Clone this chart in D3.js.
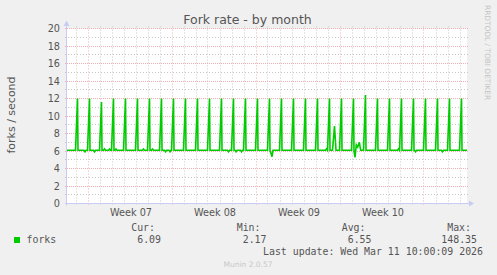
<!DOCTYPE html>
<html>
<head>
<meta charset="utf-8">
<script src="https://cdn.jsdelivr.net/npm/d3@7"></script>
<style>
	body { margin: 0; background: #f0f0f0; }
	svg { display: block; }
	text { font-family: "DejaVu Sans", sans-serif; fill: #555; }
	.mono { font-family: "DejaVu Sans Mono", monospace; }
</style>
</head>
<body>
<svg id="chart"></svg>
<script>
const title = "Fork rate - by month";
const unitLabel = "forks / second";

// [hours since left edge of graph, forks per second]
const forkRate = [
	[0, 6.08],
	[17, 6.08], [21, 12.0], [22, 6.08], [34, 6.08], [36, 5.9], [38, 6.08],
	[41, 6.08], [45, 12.0], [46, 6.08], [53, 6.08], [55, 5.9], [57, 6.08],
	[65, 6.08], [69, 11.6], [70, 6.08], [73, 6.08], [75, 6.25], [77, 6.08],
	[83, 6.08], [85, 6.22], [87, 6.08],
	[89, 6.08], [93, 12.0], [94, 6.08], [96, 6.08], [98, 6.22], [100, 6.08],
	[113, 6.08], [117, 12.0], [118, 6.08],
	[137, 6.08], [141, 12.0], [142, 6.08], [151, 6.08], [153, 6.22], [155, 6.08],
	[161, 6.08], [165, 12.0], [166, 6.08], [169, 6.08], [171, 6.22], [173, 6.08],
	[185, 6.08], [189, 12.0], [190, 6.08], [195, 6.08], [197, 5.9], [199, 6.08],
	[204, 6.08], [206, 5.9], [208, 6.08],
	[209, 6.08], [213, 12.0], [214, 6.08],
	[233, 6.08], [237, 12.0], [238, 6.08],
	[257, 6.08], [261, 12.0], [262, 6.08],
	[281, 6.08], [285, 12.0], [286, 6.08],
	[305, 6.08], [309, 12.0], [310, 6.08], [321, 6.08], [323, 5.9], [325, 6.08],
	[329, 6.08], [333, 12.0], [334, 6.08], [336, 6.08], [338, 5.9], [340, 6.08],
	[347, 6.08], [349, 5.9], [351, 6.08],
	[353, 6.08], [357, 12.0], [358, 6.08],
	[377, 6.08], [381, 12.0], [382, 6.08],
	[401, 6.08], [405, 12.0], [406, 6.0], [408, 5.75], [410, 5.35], [412, 6.08],
	[425, 6.08], [429, 12.0], [430, 6.08],
	[449, 6.08], [453, 12.0], [454, 6.08],
	[473, 6.08], [477, 12.0], [478, 6.08],
	[497, 6.08], [501, 12.0], [502, 6.08], [517, 6.08], [519, 6.25], [521, 6.08],
	[525, 12.0], [526, 6.08], [531, 6.08], [535, 8.85], [538, 6.08],
	[545, 6.08], [549, 12.0], [550, 6.08],
	[569, 6.08], [573, 12.0], [574, 6.0], [576, 5.28], [578.6, 6.7], [581.4, 6.45],
	[584.6, 7.0], [587.4, 6.08],
	[593, 6.08], [597, 12.4], [598, 6.08],
	[617, 6.08], [621, 12.0], [622, 6.08],
	[641, 6.08], [645, 12.0], [646, 6.08], [661, 6.08], [663, 6.25], [665, 6.08],
	[669, 12.0], [670, 6.08],
	[689, 6.08], [693, 12.0], [694, 6.08], [695, 6.08], [697, 5.9], [699, 6.08],
	[713, 6.08], [717, 12.0], [718, 6.08],
	[737, 6.08], [741, 12.0], [742, 6.08], [749, 6.08], [751, 5.9], [753, 6.08],
	[761, 6.08], [765, 12.0], [766, 6.08],
	[785, 6.08], [789, 12.0], [790, 6.08],
	[800, 6.08]
];

const weekStarts = [42, 210, 378, 546, 714];
const weekLabels = ["Week 07", "Week 08", "Week 09", "Week 10"];
const weekLabelHours = [126, 294, 462, 630];
const yTickLabels = [0, 2, 4, 6, 8, 10, 12, 14, 16, 18, 20];

const legendName = "forks";
const legendHeads = ["Cur:", "Min:", "Avg:", "Max:"];
const legendValues = ["6.09", "2.17", "6.55", "148.35"];
const lastUpdate = "Last update: Wed Mar 11 10:00:09 2026";
const version = "Munin 2.0.57";
const watermark = "RRDTOOL / TOBI OETIKER";

const W = 497, H = 275;
const plotLeft = 67, plotRight = 467, plotTop = 28.5, plotBottom = 203.5;

const svg = d3.select("#chart")
	.attr("width", W)
	.attr("height", H);

svg.append("rect")
	.attr("width", W).attr("height", H)
	.attr("fill", "#f0f0f0");

const x = d3.scaleLinear().domain([0, 800]).range([plotLeft, plotRight]);
const y = d3.scaleLinear().domain([0, 20]).range([plotBottom, plotTop]);
const px = v => Math.floor(v) + 0.5;

svg.append("rect")
	.attr("x", plotLeft).attr("y", plotTop)
	.attr("width", plotRight - plotLeft).attr("height", plotBottom - plotTop)
	.attr("fill", "#ffffff");

// minor grid
const minorY = d3.range(1, 20, 2);
svg.append("g").selectAll("line")
	.data(minorY)
	.join("line")
	.attr("x1", plotLeft - 2).attr("x2", plotRight + 2)
	.attr("y1", d => px(y(d))).attr("y2", d => px(y(d)))
	.attr("stroke", "#c8c8c8")
	.attr("stroke-dasharray", "1,2");

const dayLines = d3.range(18, 800, 24).filter(h => !weekStarts.includes(h));
svg.append("g").selectAll("line")
	.data(dayLines)
	.join("line")
	.attr("x1", d => px(x(d))).attr("x2", d => px(x(d)))
	.attr("y1", plotTop - 2).attr("y2", plotBottom + 2)
	.attr("stroke", "#c8c8c8")
	.attr("stroke-dasharray", "1,2");

// major grid
svg.append("g").selectAll("line")
	.data(yTickLabels)
	.join("line")
	.attr("x1", plotLeft - 2).attr("x2", plotRight + 2)
	.attr("y1", d => px(y(d))).attr("y2", d => px(y(d)))
	.attr("stroke", "#eeb0b0")
	.attr("stroke-dasharray", "1,1");

svg.append("g").selectAll("line")
	.data(weekStarts)
	.join("line")
	.attr("x1", d => px(x(d))).attr("x2", d => px(x(d)))
	.attr("y1", plotTop - 2).attr("y2", plotBottom + 2)
	.attr("stroke", "#eeb0b0")
	.attr("stroke-dasharray", "1,2");

// axes
const axisColor = "#c8ccf4";
svg.append("line")
	.attr("x1", plotLeft - 0.5).attr("x2", plotLeft - 0.5)
	.attr("y1", plotBottom + 2).attr("y2", 24)
	.attr("stroke", axisColor);
svg.append("line")
	.attr("x1", plotLeft - 2).attr("x2", plotRight + 4)
	.attr("y1", plotBottom).attr("y2", plotBottom)
	.attr("stroke", axisColor);
svg.append("path")
	.attr("d", `M${plotLeft - 0.5},20.5 L${plotLeft - 3.5},26 L${plotLeft + 2.5},26 Z`)
	.attr("fill", axisColor);
svg.append("path")
	.attr("d", `M${plotRight + 7},${plotBottom} L${plotRight + 2},${plotBottom - 3} L${plotRight + 2},${plotBottom + 3} Z`)
	.attr("fill", axisColor);

// data line
svg.append("path")
	.datum(forkRate)
	.attr("fill", "none")
	.attr("stroke", "#00cc00")
	.attr("stroke-width", 1.6)
	.attr("d", d3.line()
		.x(d => x(d[0]))
		.y(d => y(d[1])));

// y tick labels
svg.append("g").selectAll("text")
	.data(yTickLabels)
	.join("text")
	.attr("x", 60)
	.attr("y", d => y(d) + 3.5)
	.attr("text-anchor", "end")
	.style("font-size", "9.7px")
	.text(d => d);

// x labels
svg.append("g").selectAll("text")
	.data(weekLabels)
	.join("text")
	.attr("x", (d, i) => x(weekLabelHours[i]) + 1)
	.attr("y", 216)
	.attr("text-anchor", "middle")
	.style("font-size", "9.7px")
	.text(d => d);

svg.append("text")
	.attr("x", 247.5)
	.attr("y", 24)
	.attr("text-anchor", "middle")
	.style("font-size", "12.5px")
	.text(title);

svg.append("text")
	.attr("transform", "translate(15,115) rotate(-90)")
	.attr("text-anchor", "middle")
	.style("font-size", "11px")
	.text(unitLabel);

svg.append("text")
	.attr("transform", "translate(484.5,5) rotate(90)")
	.style("font-size", "7.4px")
	.style("fill", "#c4c4c4")
	.text(watermark);

// legend
const colEnds = [161, 266.5, 371.5, 477];
svg.append("g").selectAll("text")
	.data(legendHeads)
	.join("text")
	.attr("class", "mono")
	.attr("x", (d, i) => colEnds[i] - 6)
	.attr("y", 231)
	.attr("text-anchor", "end")
	.style("font-size", "9.9px")
	.text(d => d);

svg.append("g").selectAll("text")
	.data(legendValues)
	.join("text")
	.attr("class", "mono")
	.attr("x", (d, i) => colEnds[i])
	.attr("y", 243)
	.attr("text-anchor", "end")
	.style("font-size", "9.9px")
	.text(d => d);

svg.append("rect")
	.attr("x", 14).attr("y", 237)
	.attr("width", 6).attr("height", 6)
	.attr("fill", "#00cc00");

svg.append("text")
	.attr("class", "mono")
	.attr("x", 26.5)
	.attr("y", 243)
	.style("font-size", "9.9px")
	.text(legendName);

svg.append("text")
	.attr("class", "mono")
	.attr("x", 483)
	.attr("y", 255)
	.attr("text-anchor", "end")
	.style("font-size", "9.9px")
	.text(lastUpdate);

svg.append("text")
	.attr("x", 248)
	.attr("y", 267)
	.attr("text-anchor", "middle")
	.style("font-size", "7.5px")
	.style("fill", "#c8c8c8")
	.text(version);
</script>
</body>
</html>
